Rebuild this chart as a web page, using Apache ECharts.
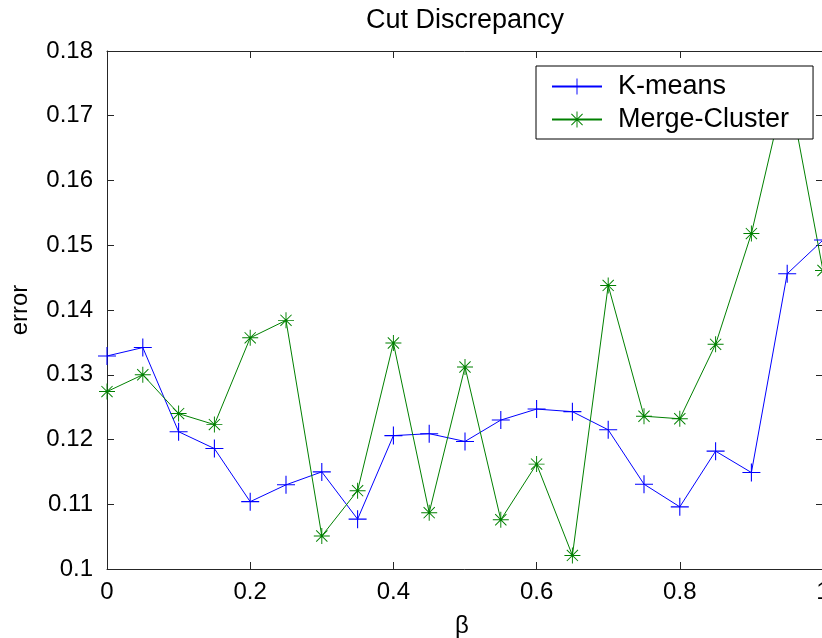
<!DOCTYPE html>
<html>
<head>
<meta charset="utf-8">
<script src="https://cdn.jsdelivr.net/npm/echarts@6/dist/echarts.min.js"></script>
<style>
  html, body { margin: 0; padding: 0; background: #fff; }
  #chart { width: 822px; height: 638px; }
</style>
</head>
<body>
<div id="chart"></div>
<script>
// β values along the horizontal axis
const betaValues = [0, 0.05, 0.1, 0.15, 0.2, 0.25, 0.3, 0.35, 0.4, 0.45, 0.5,
                    0.55, 0.6, 0.65, 0.7, 0.75, 0.8, 0.85, 0.9, 0.95, 1.0];

// cut discrepancy error for each method
const kmeansError = [0.1329, 0.1342, 0.1212, 0.1186, 0.1104, 0.1130, 0.1150, 0.1077,
                     0.1206, 0.1209, 0.1197, 0.1230, 0.1247, 0.1243, 0.1215, 0.1131,
                     0.1096, 0.1182, 0.1149, 0.1456, 0.1508];
const mergeClusterError = [0.1274, 0.1300, 0.1240, 0.1223, 0.1357, 0.1384, 0.1051, 0.1121,
                           0.1349, 0.1087, 0.1312, 0.1076, 0.1162, 0.1021, 0.1438, 0.1236,
                           0.1232, 0.1347, 0.1518, 0.1755, 0.1461];

const seriesNames = ['K-means', 'Merge-Cluster'];
const titleText = 'Cut Discrepancy';
const xAxisName = 'β';
const yAxisName = 'error';

const FONT = '"Liberation Sans", Arial, Helvetica, sans-serif';
const AXIS_COLOR = '#262626';

// marker shapes: a thin plus, and an asterisk with a small centre dot
const plusSymbol = 'path://M0,47H100V53H0Z M47,0H53V100H47Z';
const starSymbol = 'path://M0,47H100V53H0Z M47,0H53V100H47Z ' +
  'M12.9,17.1L17.1,12.9L87.1,82.9L82.9,87.1Z ' +
  'M82.9,12.9L87.1,17.1L17.1,87.1L12.9,82.9Z M42,42H58V58H42Z';

const pairs = (ys) => betaValues.map((x, i) => [x, ys[i]]);

// plot box; the right edge sits just past the canvas, so the last label is clipped
const grid = { left: 107, top: 51, width: 716, height: 518, outerBoundsMode: 'none', containLabel: false };
const cx = grid.left + grid.width / 2;
const cy = grid.top + grid.height / 2;

const tickInside = { show: true, inside: true, length: 7, lineStyle: { color: AXIS_COLOR, width: 1 } };
const axisLine = { show: true, onZero: false, lineStyle: { color: AXIS_COLOR, width: 1 } };

const chart = echarts.init(document.getElementById('chart'), null, { renderer: 'canvas' });

chart.setOption({
  backgroundColor: '#ffffff',
  animation: false,
  grid: grid,
  xAxis: [
    {
      type: 'value', min: 0, max: 1, interval: 0.2, position: 'bottom',
      axisLine: axisLine, axisTick: tickInside, splitLine: { show: false },
      axisLabel: {
        show: true, margin: 11, color: '#000', fontFamily: FONT, fontSize: 24,
        showMinLabel: true, showMaxLabel: true,
        formatter: (v) => String(parseFloat(v.toFixed(1)))
      }
    },
    {
      type: 'value', min: 0, max: 1, interval: 0.2, position: 'top',
      axisLine: axisLine, axisTick: tickInside, splitLine: { show: false },
      axisLabel: { show: false }
    }
  ],
  yAxis: [
    {
      type: 'value', min: 0.1, max: 0.18, interval: 0.01, position: 'left',
      axisLine: axisLine, axisTick: tickInside, splitLine: { show: false },
      axisLabel: {
        show: true, margin: 14, color: '#000', fontFamily: FONT, fontSize: 24,
        showMinLabel: true, showMaxLabel: true,
        formatter: (v) => String(parseFloat(v.toFixed(2)))
      }
    },
    {
      type: 'value', min: 0.1, max: 0.18, interval: 0.01, position: 'right',
      axisLine: axisLine, axisTick: tickInside, splitLine: { show: false },
      axisLabel: { show: false }
    }
  ],
  legend: {
    left: 536, top: 66, orient: 'vertical',
    backgroundColor: '#ffffff', borderColor: '#000000', borderWidth: 1,
    padding: [7, 24, 6, 15],
    itemWidth: 50, itemHeight: 20, itemGap: 6,
    textStyle: { color: '#000', fontFamily: FONT, fontSize: 27, lineHeight: 26, padding: [0, 0, 0, 11] },
    data: seriesNames
  },
  graphic: [
    {
      type: 'text', x: cx, y: 21,
      style: { text: titleText, font: '27px ' + FONT, fill: '#000', align: 'center', verticalAlign: 'middle' }
    },
    {
      type: 'text', x: cx - 3, y: 626,
      style: { text: xAxisName, font: '24px ' + FONT, fill: '#000', align: 'center', verticalAlign: 'middle' }
    },
    {
      type: 'text', x: 20, y: cy, rotation: Math.PI / 2,
      style: { text: yAxisName, font: '24px ' + FONT, fill: '#000', align: 'center', verticalAlign: 'middle' }
    }
  ],
  series: [
    {
      name: seriesNames[0], type: 'line', data: pairs(kmeansError),
      xAxisIndex: 0, yAxisIndex: 0,
      symbol: plusSymbol, symbolSize: 18, symbolKeepAspect: true, showAllSymbol: true,
      lineStyle: { color: '#0000ff', width: 1 },
      itemStyle: { color: '#0000ff' },
      emphasis: { disabled: true }
    },
    {
      name: seriesNames[1], type: 'line', data: pairs(mergeClusterError),
      xAxisIndex: 0, yAxisIndex: 0,
      symbol: starSymbol, symbolSize: 16, symbolKeepAspect: true, showAllSymbol: true,
      lineStyle: { color: '#008000', width: 1 },
      itemStyle: { color: '#008000' },
      emphasis: { disabled: true }
    }
  ]
});
</script>
</body>
</html>
